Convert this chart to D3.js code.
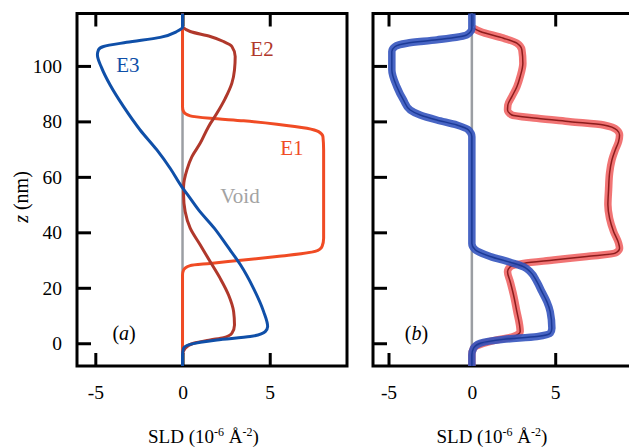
<!DOCTYPE html>
<html>
<head>
<meta charset="utf-8">
<script src="https://cdn.jsdelivr.net/npm/d3@7"></script>
<style>
  body { margin: 0; background: #fff; }
  svg text { font-family: "Liberation Serif", "Times New Roman", "DejaVu Serif", serif; }
</style>
</head>
<body>
<svg id="svg" width="629" height="447"></svg>
<script>
//tick values
const Z_TICKS = [0, 20, 40, 60, 80, 100];
const SLD_TICKS = [-5, 0, 5];

//panel (a) profiles, [z (nm), SLD]
const voidProfile = [[118.9, 0], [-8.2, 0]];
const e1Profile = [
    [118.9, 0], [113.6, 0], [85.3, 0], [83.5, 0.06], [82.0, 0.44], [81.1, 1.59], [80.2, 3.5],
    [79.0, 5.41], [77.5, 7.13], [76.3, 7.8], [74.5, 8.05], [69.7, 8.09], [55.3, 8.09],
    [37.9, 8.09], [34.9, 8.0], [33.1, 7.6], [31.3, 5.41], [30.0, 3.5], [28.8, 1.59],
    [28.0, 0.44], [26.4, 0.06], [24.6, 0], [-8.2, 0]
];
const e2Profile = [
    [114.0, 0], [112.4, 0.44], [110.6, 1.59], [108.8, 2.35], [107.0, 2.83], [103.4, 3.02],
    [98.6, 2.98], [93.8, 2.83], [88.3, 2.45], [82.9, 1.97], [78.1, 1.49], [72.1, 1.01],
    [67.3, 0.54], [62.5, 0.25], [56.5, 0.06], [53.5, 0.06], [47.5, 0.15], [41.5, 0.44],
    [35.5, 1.01], [29.4, 1.59], [23.4, 2.16], [17.4, 2.64], [11.4, 2.93], [6.6, 2.98],
    [3.6, 2.83], [2.0, 2.35], [1.2, 1.59], [0.0, 0.63], [-1.8, 0.15], [-4.2, 0], [-8.2, 0]
];
const e3Profile = [
    [118.9, 0], [114.0, 0], [112.4, -0.33], [110.3, -1.28], [108.5, -3.2], [107.0, -4.53],
    [105.8, -4.82], [104.0, -4.88], [99.2, -4.63], [93.1, -4.15], [85.3, -3.38], [76.9, -2.43],
    [69.7, -1.47], [63.1, -0.71], [56.5, -0.05], [53.5, 0.3], [48.1, 0.92], [41.5, 1.82],
    [34.9, 2.58], [28.2, 3.33], [19.8, 4.07], [11.4, 4.65], [6.0, 4.88], [4.2, 4.74],
    [2.4, 3.88], [1.2, 1.97], [-0.4, 0.44], [-1.8, 0.06], [-4.2, 0], [-8.2, 0]
];

//panel (b) fitted profiles, [z (nm), SLD]
const fitBlue = [
    [118.9, 0], [113.6, 0], [111.2, -0.3], [109.4, -2.1], [108.2, -3.9], [107.0, -4.6],
    [105.2, -4.8], [98.6, -4.8], [92.5, -4.5], [87.7, -4.1], [84.1, -3.7], [82.3, -3.1],
    [80.5, -2.1], [78.7, -0.9], [76.9, -0.2], [74.5, 0], [36.0, 0], [33.7, 0.2],
    [31.3, 1.1], [29.2, 2.3], [27.6, 3.1], [25.8, 3.5], [22.2, 3.9], [18.6, 4.2],
    [15.0, 4.5], [11.4, 4.7], [5.4, 4.8], [3.6, 4.7], [2.4, 3.9], [1.4, 1.9],
    [0.0, 0.5], [-1.8, 0.1], [-4.2, 0], [-8.2, 0]
];
const fitRed = [
    [113.6, 0.1], [112.4, 0.5], [110.0, 1.9], [108.2, 2.7], [105.8, 3.0], [101.0, 3.06],
    [96.2, 2.9], [92.5, 2.7], [88.9, 2.4], [85.9, 2.16], [84.1, 2.14], [82.3, 2.4],
    [81.1, 3.9], [79.9, 5.9], [78.7, 7.9], [76.9, 8.7], [75.1, 8.86], [72.7, 8.8],
    [69.7, 8.6], [66.1, 8.4], [61.3, 8.26], [55.3, 8.2], [49.9, 8.16], [45.1, 8.26],
    [40.3, 8.5], [36.1, 8.8], [34.3, 8.86], [32.5, 8.6], [31.3, 6.9], [30.0, 4.9],
    [28.8, 3.1], [27.6, 2.3], [25.8, 2.14], [22.2, 2.3], [17.4, 2.5], [11.4, 2.7],
    [6.6, 2.86], [4.2, 2.9], [2.4, 2.5], [1.2, 1.5], [-0.4, 0.5], [-1.8, 0.1],
    [-4.2, 0], [-8.2, 0]
];

const svg = d3.select("#svg");
svg.append("rect").attr("width", 629).attr("height", 447).attr("fill", "#fff");

//shared vertical scale
const scaleZ = d3.scaleLinear()
        .domain([-8.2, 118.9])
        .range([366, 13.5]);

//one horizontal scale per panel (panel b runs past the right edge)
const scaleA = d3.scaleLinear().domain([-6.05, 9.43]).range([77, 347]);
const scaleB = d3.scaleLinear().domain([-5.93, 9.6]).range([373, 631.9]);

function profileLine(scaleX) {
    return d3.line()
            .x((d) => scaleX(d[1]))
            .y((d) => scaleZ(d[0]))
            .curve(d3.curveMonotoneY);
}

function drawPanel(scaleX, showZLabels) {
    var g = svg.append("g");
    var x0 = scaleX.range()[0], x1 = scaleX.range()[1];
    var y0 = scaleZ.range()[1], y1 = scaleZ.range()[0];

    //left axis, ticks pointing inward
    var zAxis = d3.axisLeft(scaleZ)
            .tickValues(Z_TICKS)
            .tickSizeInner(-14)
            .tickSizeOuter(0)
            .tickPadding(15)
            .tickFormat((d) => showZLabels ? String(d) : "");
    g.append("g").attr("transform", "translate(" + x0 + ",0)").call(zAxis);

    //bottom axis with labels
    var xAxis = d3.axisBottom(scaleX)
            .tickValues(SLD_TICKS)
            .tickSizeInner(-13)
            .tickSizeOuter(0)
            .tickPadding(19)
            .tickFormat((d) => String(d));
    g.append("g").attr("transform", "translate(0," + y1 + ")").call(xAxis);

    //top axis, ticks only
    var topAxis = d3.axisTop(scaleX)
            .tickValues(SLD_TICKS)
            .tickSizeInner(-13)
            .tickSizeOuter(0)
            .tickFormat("");
    g.append("g").attr("transform", "translate(0," + y0 + ")").call(topAxis);

    g.selectAll("g").attr("font-family", null).attr("font-size", null);
    g.selectAll(".domain").remove();
    g.selectAll(".tick line").attr("stroke", "#000").attr("stroke-width", 3);
    g.selectAll(".tick text")
            .attr("fill", "#000")
            .style("font-size", "19.5px");

    //frame
    g.append("rect")
            .attr("x", x0).attr("y", y0)
            .attr("width", x1 - x0).attr("height", y1 - y0)
            .attr("fill", "none")
            .attr("stroke", "#000")
            .attr("stroke-width", 3);

    //x axis title
    var t = g.append("text")
            .attr("x", scaleX(1.2))
            .attr("y", 443)
            .attr("text-anchor", "middle")
            .style("font-size", "19px");
    t.append("tspan").text("SLD (10");
    t.append("tspan").attr("dy", -7).style("font-size", "12px").text("-6");
    t.append("tspan").attr("dy", 7).text(" Å");
    t.append("tspan").attr("dy", -7).style("font-size", "12px").text("-2");
    t.append("tspan").attr("dy", 7).text(")");

    return g;
}

//panel (a)
var gA = drawPanel(scaleA, true);
var lineA = profileLine(scaleA);
var curvesA = [
    {data: voidProfile, color: "#9b9ea3", width: 2.5},
    {data: e1Profile, color: "#f04b24", width: 3},
    {data: e2Profile, color: "#b0382b", width: 3},
    {data: e3Profile, color: "#0f4fa8", width: 3}
];
curvesA.forEach((c) => {
    gA.append("path")
            .attr("d", lineA(c.data))
            .attr("fill", "none")
            .attr("stroke", c.color)
            .attr("stroke-width", c.width);
});

var labelsA = [
    {text: "E3", sld: -3.8, z: 97.7, color: "#0f4fa8"},
    {text: "E2", sld: 3.89, z: 103.4, color: "#b0382b"},
    {text: "E1", sld: 5.6, z: 67.9, color: "#f04b24"},
    {text: "Void", sld: 2.17, z: 50.6, color: "#a3a3a3"}
];
gA.selectAll(".lbl")
        .data(labelsA)
        .enter()
        .append("text")
        .attr("x", (d) => scaleA(d.sld))
        .attr("y", (d) => scaleZ(d.z))
        .attr("fill", (d) => d.color)
        .style("font-size", "21px")
        .text((d) => d.text);

function panelTag(g, scaleX, letter) {
    var t = g.append("text")
            .attr("x", scaleX(-4.02))
            .attr("y", scaleZ(1.0))
            .style("font-size", "20px");
    t.append("tspan").text("(");
    t.append("tspan").style("font-style", "italic").text(letter);
    t.append("tspan").text(")");
}
panelTag(gA, scaleA, "a");

//panel (b)
var gB = drawPanel(scaleB, false);
var lineB = profileLine(scaleB);
gB.append("path")
        .attr("d", lineB(voidProfile))
        .attr("fill", "none")
        .attr("stroke", "#9b9ea3")
        .attr("stroke-width", 2.5);

var fits = [
    {data: fitRed, band: "rgba(238,92,92,0.85)", core: "#8c1c1c"},
    {data: fitBlue, band: "rgba(52,84,190,0.9)", core: "#1c3a96"}
];
fits.forEach((f) => {
    gB.append("path")
            .attr("d", lineB(f.data))
            .attr("fill", "none")
            .attr("stroke", f.band)
            .attr("stroke-width", 7.5);
    gB.append("path")
            .attr("d", lineB(f.data))
            .attr("fill", "none")
            .attr("stroke", f.core)
            .attr("stroke-width", 1.5);
});
panelTag(gB, scaleB, "b");

//z axis title
var zt = svg.append("text")
        .attr("transform", "translate(28,197) rotate(-90)")
        .attr("text-anchor", "middle")
        .style("font-size", "20px");
zt.append("tspan").style("font-style", "italic").text("z");
zt.append("tspan").text(" (nm)");
</script>
</body>
</html>
